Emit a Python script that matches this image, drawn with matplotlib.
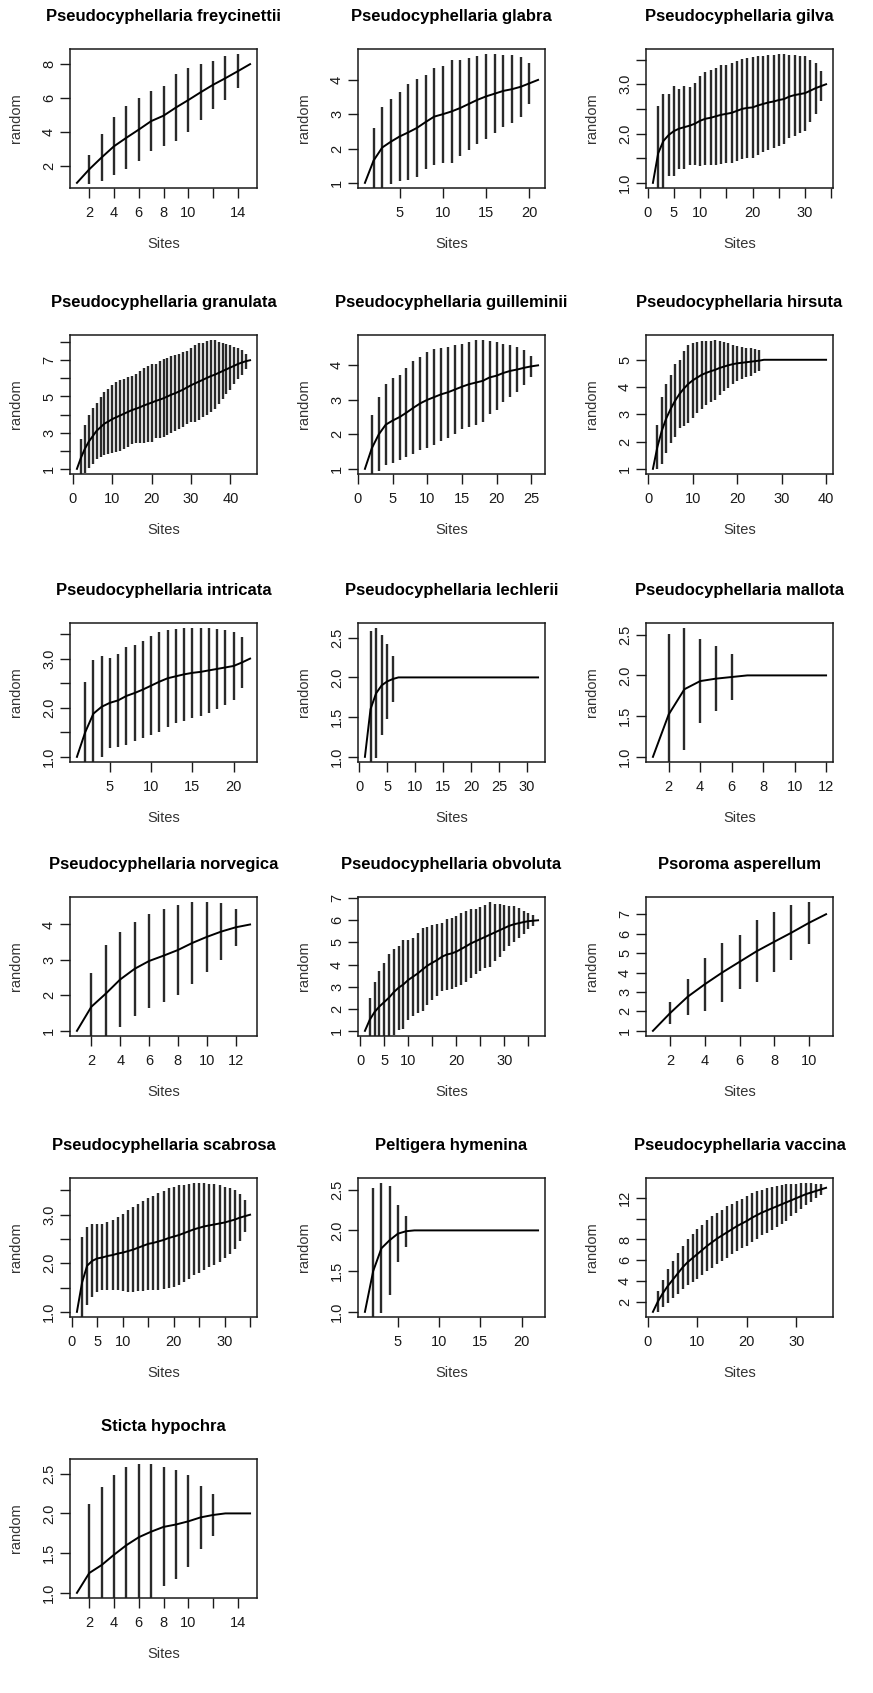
import matplotlib
matplotlib.use('Agg')
import matplotlib.pyplot as plt
import numpy as np

plt.rcParams['font.family'] = ['Liberation Sans', 'DejaVu Sans']

# species accumulation (random): mean richness and 2*sd per number of sites
freycinettii_mean = [1.0, 1.8, 2.5, 3.16, 3.66, 4.14, 4.64, 4.96, 5.44, 5.88, 6.34, 6.78, 7.17, 7.58, 8.0]
freycinettii_ci = [0, 0.85, 1.4, 1.72, 1.86, 1.84, 1.79, 1.77, 1.99, 1.89, 1.66, 1.42, 1.29, 1.01, 0]

glabra_mean = [1.0, 1.65, 2.03, 2.2, 2.35, 2.47, 2.6, 2.77, 2.93, 3.0, 3.08, 3.18, 3.3, 3.42, 3.52,
               3.6, 3.68, 3.73, 3.8, 3.9, 4.0]
glabra_ci = [0, 0.96, 1.17, 1.23, 1.31, 1.40, 1.42, 1.37, 1.42, 1.41, 1.49, 1.39, 1.34, 1.29, 1.23,
             1.15, 1.04, 0.99, 0.87, 0.59, 0]

gilva_mean = [1.0, 1.6, 1.85, 1.97, 2.05, 2.1, 2.13, 2.16, 2.2, 2.26, 2.3, 2.32, 2.35, 2.38, 2.4,
              2.42, 2.46, 2.5, 2.52, 2.53, 2.57, 2.6, 2.63, 2.65, 2.68, 2.7, 2.75, 2.78, 2.8, 2.82,
              2.87, 2.92, 2.96, 3.0]
gilva_ci = [0, 0.96, 0.95, 0.83, 0.92, 0.81, 0.84, 0.79, 0.83, 0.91, 0.94, 0.96, 0.98, 1.0, 0.99,
            1.01, 1.02, 1.02, 1.01, 1.02, 1.01, 0.98, 0.97, 0.95, 0.93, 0.91, 0.85, 0.82, 0.78, 0.76,
            0.63, 0.52, 0.30, 0]

granulata_mean = [1.0, 1.6, 2.1, 2.5, 2.8, 3.1, 3.3, 3.5, 3.62, 3.75, 3.85, 3.95, 4.05, 4.15, 4.25,
                  4.32, 4.4, 4.5, 4.58, 4.66, 4.75, 4.82, 4.9, 5.0, 5.1, 5.18, 5.28, 5.38, 5.5, 5.62,
                  5.72, 5.82, 5.92, 6.02, 6.12, 6.2, 6.3, 6.4, 6.5, 6.6, 6.7, 6.8, 6.88, 6.95, 7.0]
granulata_ci = [0, 1.03, 1.33, 1.47, 1.54, 1.54, 1.66, 1.74, 1.8, 1.89, 1.94, 1.94, 1.93, 1.92, 1.88,
                1.9, 1.99, 2.07, 2.1, 2.15, 2.06, 2.12, 2.15, 2.15, 2.12, 2.1, 2.09, 2.05, 2.0, 2.03,
                2.12, 2.11, 2.06, 2.04, 1.99, 1.91, 1.72, 1.53, 1.37, 1.24, 1.04, 0.85, 0.68, 0.42, 0]

guilleminii_mean = [1.0, 1.6, 2.0, 2.28, 2.4, 2.5, 2.63, 2.77, 2.9, 3.0, 3.08, 3.16, 3.22, 3.3, 3.38,
                    3.45, 3.5, 3.55, 3.65, 3.7, 3.78, 3.84, 3.88, 3.93, 3.97, 4.0]
guilleminii_ci = [0, 0.95, 1.07, 1.18, 1.23, 1.23, 1.29, 1.35, 1.35, 1.39, 1.39, 1.35, 1.32, 1.29, 1.23,
                  1.24, 1.23, 1.18, 1.06, 0.99, 0.83, 0.75, 0.66, 0.51, 0.30, 0]

hirsuta_mean = [1.0, 1.8, 2.4, 2.85, 3.2, 3.5, 3.75, 3.95, 4.12, 4.25, 4.35, 4.45, 4.52, 4.58, 4.63,
                4.7, 4.75, 4.8, 4.84, 4.87, 4.89, 4.91, 4.93, 4.95, 4.97, 5.0, 5.0, 5.0, 5.0, 5.0,
                5.0, 5.0, 5.0, 5.0, 5.0, 5.0, 5.0, 5.0, 5.0, 5.0]
hirsuta_ci = [0, 0.8, 1.22, 1.26, 1.26, 1.33, 1.25, 1.37, 1.44, 1.38, 1.30, 1.24, 1.17, 1.11, 1.09,
              0.99, 0.90, 0.83, 0.72, 0.64, 0.58, 0.53, 0.51, 0.43, 0.38, 0, 0, 0, 0, 0,
              0, 0, 0, 0, 0, 0, 0, 0, 0, 0]

intricata_mean = [1.0, 1.5, 1.88, 2.02, 2.1, 2.15, 2.24, 2.3, 2.37, 2.45, 2.53, 2.6, 2.64, 2.68, 2.71,
                  2.73, 2.76, 2.79, 2.82, 2.85, 2.92, 3.0]
intricata_ci = [0, 1.02, 1.09, 1.03, 0.92, 0.95, 0.99, 0.98, 0.99, 1.0, 1.02, 0.99, 0.96, 0.94, 0.91,
                0.89, 0.86, 0.81, 0.76, 0.70, 0.52, 0]

lechlerii_mean = [1.0, 1.6, 1.8, 1.9, 1.95, 1.98, 2.0, 2.0, 2.0, 2.0, 2.0, 2.0, 2.0, 2.0, 2.0, 2.0,
                  2.0, 2.0, 2.0, 2.0, 2.0, 2.0, 2.0, 2.0, 2.0, 2.0, 2.0, 2.0, 2.0, 2.0, 2.0, 2.0]
lechlerii_ci = [0, 0.98, 0.82, 0.63, 0.47, 0.29, 0, 0, 0, 0, 0, 0, 0, 0, 0, 0,
                0, 0, 0, 0, 0, 0, 0, 0, 0, 0, 0, 0, 0, 0, 0, 0]

mallota_mean = [1.0, 1.52, 1.83, 1.93, 1.96, 1.98, 2.0, 2.0, 2.0, 2.0, 2.0, 2.0]
mallota_ci = [0, 0.99, 0.75, 0.52, 0.40, 0.28, 0, 0, 0, 0, 0, 0]

norvegica_mean = [1.0, 1.68, 2.05, 2.45, 2.75, 2.97, 3.12, 3.28, 3.48, 3.65, 3.8, 3.92, 4.0]
norvegica_ci = [0, 0.94, 1.38, 1.35, 1.32, 1.32, 1.31, 1.26, 1.15, 0.98, 0.81, 0.52, 0]

obvoluta_mean = [1.0, 1.5, 1.85, 2.1, 2.3, 2.5, 2.75, 2.95, 3.1, 3.3, 3.45, 3.6, 3.78, 3.95, 4.08,
                 4.2, 4.35, 4.45, 4.5, 4.58, 4.7, 4.82, 4.95, 5.05, 5.15, 5.25, 5.35, 5.45, 5.55, 5.65,
                 5.75, 5.82, 5.87, 5.92, 5.96, 5.98, 6.0]
obvoluta_ci = [0, 0.98, 1.34, 1.61, 1.77, 1.98, 1.95, 1.90, 2.02, 1.82, 1.77, 1.81, 1.89, 1.76, 1.69,
               1.61, 1.54, 1.59, 1.61, 1.61, 1.63, 1.62, 1.56, 1.48, 1.44, 1.42, 1.47, 1.30, 1.20, 1.05,
               0.91, 0.81, 0.69, 0.52, 0.35, 0.25, 0]

asperellum_mean = [1.0, 1.92, 2.75, 3.4, 4.0, 4.55, 5.1, 5.58, 6.05, 6.55, 7.0]
asperellum_ci = [0, 0.57, 0.92, 1.37, 1.51, 1.40, 1.59, 1.55, 1.40, 1.07, 0]

scabrosa_mean = [1.0, 1.6, 1.95, 2.05, 2.1, 2.12, 2.15, 2.17, 2.2, 2.22, 2.25, 2.28, 2.32, 2.36, 2.4,
                 2.42, 2.45, 2.48, 2.52, 2.55, 2.58, 2.62, 2.66, 2.7, 2.73, 2.76, 2.78, 2.8, 2.82, 2.84,
                 2.87, 2.9, 2.94, 2.97, 3.0]
scabrosa_ci = [0, 0.95, 0.8, 0.75, 0.7, 0.68, 0.7, 0.72, 0.75, 0.8, 0.85, 0.88, 0.9, 0.93, 0.95,
               0.97, 0.99, 1.0, 1.02, 1.03, 1.03, 1.0, 0.98, 0.95, 0.92, 0.89, 0.86, 0.83, 0.79, 0.74,
               0.68, 0.6, 0.48, 0.33, 0]

hymenina_mean = [1.0, 1.5, 1.78, 1.88, 1.96, 1.99, 2.0, 2.0, 2.0, 2.0, 2.0, 2.0, 2.0, 2.0, 2.0,
                 2.0, 2.0, 2.0, 2.0, 2.0, 2.0, 2.0]
hymenina_ci = [0, 1.02, 0.8, 0.67, 0.35, 0.19, 0, 0, 0, 0, 0, 0, 0, 0, 0,
               0, 0, 0, 0, 0, 0, 0]

vaccina_mean = [1.0, 2.0, 2.8, 3.5, 4.1, 4.7, 5.3, 5.8, 6.2, 6.6, 7.0, 7.4, 7.75, 8.1, 8.4,
                8.7, 9.0, 9.3, 9.55, 9.8, 10.1, 10.35, 10.6, 10.8, 11.0, 11.2, 11.4, 11.6, 11.8, 12.0,
                12.2, 12.4, 12.55, 12.7, 12.85, 13.0]
vaccina_ci = [0, 1.0, 1.3, 1.6, 1.8, 2.0, 2.1, 2.2, 2.3, 2.4, 2.4, 2.45, 2.5, 2.5, 2.5,
              2.5, 2.45, 2.45, 2.4, 2.4, 2.35, 2.3, 2.2, 2.15, 2.1, 2.0, 1.9, 1.8, 1.55, 1.4,
              1.25, 1.05, 0.9, 0.7, 0.5, 0]

hypochra_mean = [1.0, 1.25, 1.35, 1.48, 1.6, 1.7, 1.77, 1.83, 1.86, 1.9, 1.95, 1.98, 2.0, 2.0, 2.0]
hypochra_ci = [0, 0.87, 0.98, 1.0, 0.98, 0.92, 0.85, 0.75, 0.69, 0.58, 0.4, 0.27, 0, 0, 0]

titles = ["Pseudocyphellaria freycinettii", "Pseudocyphellaria glabra", "Pseudocyphellaria gilva",
          "Pseudocyphellaria granulata", "Pseudocyphellaria guilleminii", "Pseudocyphellaria hirsuta",
          "Pseudocyphellaria intricata", "Pseudocyphellaria lechlerii", "Pseudocyphellaria mallota",
          "Pseudocyphellaria norvegica", "Pseudocyphellaria obvoluta", "Psoroma asperellum",
          "Pseudocyphellaria scabrosa", "Peltigera hymenina", "Pseudocyphellaria vaccina",
          "Sticta hypochra"]
means = [freycinettii_mean, glabra_mean, gilva_mean, granulata_mean, guilleminii_mean, hirsuta_mean,
         intricata_mean, lechlerii_mean, mallota_mean, norvegica_mean, obvoluta_mean, asperellum_mean,
         scabrosa_mean, hymenina_mean, vaccina_mean, hypochra_mean]
cis = [freycinettii_ci, glabra_ci, gilva_ci, granulata_ci, guilleminii_ci, hirsuta_ci,
       intricata_ci, lechlerii_ci, mallota_ci, norvegica_ci, obvoluta_ci, asperellum_ci,
       scabrosa_ci, hymenina_ci, vaccina_ci, hypochra_ci]

# axis tick steps and labels that R dropped for overlap
x_steps = [2, 5, 5, 10, 5, 10, 5, 5, 2, 2, 5, 2, 5, 5, 10, 2]
y_steps = [2, 1, 0.5, 1, 1, 1, 0.5, 0.5, 0.5, 1, 1, 1, 0.5, 0.5, 2, 0.5]
x_hidden = {0: [12], 2: [15, 25, 35], 10: [15, 25, 35], 12: [15, 25, 35], 15: [12]}
y_hidden = {2: [1.5, 2.5, 3.5], 3: [2, 4, 6, 8], 6: [1.5, 2.5, 3.5], 12: [1.5, 2.5, 3.5], 14: [10]}

W, H = 873, 1693
row_tops = [49, 335, 623, 897, 1178, 1459]
col_lefts = [70, 358, 646]
ax_w, ax_h = 187, 139
FS = 10.5

fig = plt.figure(figsize=(W / 100, H / 100), dpi=100)

for i in range(len(titles)):
    r, c = divmod(i, 3)
    ax = fig.add_axes([col_lefts[c] / W, 1 - (row_tops[r] + ax_h) / H, ax_w / W, ax_h / H])
    mean = np.array(means[i])
    ci = np.array(cis[i])
    n = len(mean)
    sites = np.arange(1, n + 1)

    bar = ci > 0
    ax.vlines(sites[bar], (mean - ci)[bar], (mean + ci)[bar], color='#2a2a2a', lw=1.7)
    ax.plot(sites, mean, color='black', lw=1.4)

    x0, x1 = 1 - 0.04 * (n - 1), n + 0.04 * (n - 1)
    lo, hi = mean.min(), (mean + ci).max()
    y0, y1 = lo - 0.04 * (hi - lo), hi + 0.04 * (hi - lo)
    ax.set_xlim(x0, x1)
    ax.set_ylim(y0, y1)

    xs = x_steps[i]
    xt = [v for v in np.arange(0, x1 + xs, xs) if x0 - 1e-9 <= v <= x1]
    ax.set_xticks(xt)
    ax.set_xticklabels(['' if v in x_hidden.get(i, []) else '%g' % v for v in xt])

    ys = y_steps[i]
    yt = [v for v in np.arange(0, y1 + ys, ys) if y0 <= v <= y1]
    ax.set_yticks(yt)
    fmt = '%.1f' if ys < 1 else '%g'
    ax.set_yticklabels(['' if v in y_hidden.get(i, []) else fmt % v for v in yt],
                       rotation=90, va='center')

    ax.tick_params(direction='out', length=7, width=1, labelsize=FS, colors='#1a1a1a')
    ax.tick_params(axis='x', pad=6)
    ax.tick_params(axis='y', pad=3)
    for s in ax.spines.values():
        s.set_linewidth(1.1)
        s.set_color('#1a1a1a')

    ax.set_title(titles[i], fontsize=12, fontweight='bold', pad=20)
    ax.set_xlabel('Sites', fontsize=FS, labelpad=12, color='#333333')
    ax.set_ylabel('random', fontsize=FS, labelpad=14, color='#333333')

fig.savefig('out.png', dpi=100)
